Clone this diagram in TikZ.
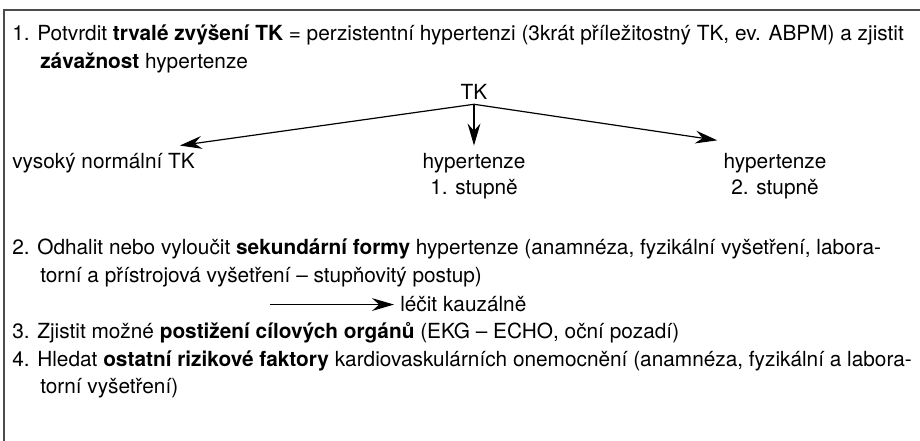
\documentclass[tikz,border=0pt]{standalone}
\usepackage{fontspec}
\setmainfont{TeX Gyre Heros}
\usetikzlibrary{arrows.meta}

\tikzset{
  txt/.style={inner sep=0pt, anchor = base west, font=\fontsize{14.8}{19.6}\selectfont},
  mid/.style={txt, anchor = base},
  arr/.style={line width=0.3mm, -{Stealth[length=5.5mm,width=3.2mm,inset=1.8mm]}},
}

\begin{document}
\begin{tikzpicture}
\useasboundingbox (0,0) rectangle (23,11.025);
\draw[line width=0.35mm, black!70] (23,10.775) -- (0.1,10.775) -- (0.1,0);

% 1. krok
\node[txt] (item1) at (0.3,10.0) {1. Potvrdit \textbf{trvalé zvýšení TK} = perzistentní hypertenzi (3krát příležitostný TK, ev. ABPM) a zjistit};
\node[txt] (item1b) at (1.0,9.3) {\textbf{závažnost} hypertenze};

\node[mid] (tk) at (11.85,8.525) {TK};
\coordinate (split) at ([yshift=-1mm]tk.south);
\node[txt] (normal) at (0.3,6.8) {vysoký normální TK};
\node[mid] (stage1) at (11.85,6.8) {hypertenze};
\node[mid] (stage1b) at (11.85,6.15) {1. stupně};
\node[mid] (stage2) at (19.375,6.8) {hypertenze};
\node[mid] (stage2b) at (19.375,6.15) {2. stupně};
\draw[arr] (split) -- ([xshift=-3.8mm,yshift=2mm]normal.north east);
\draw[arr] (split) -- ([yshift=2mm]stage1.north);
\draw[arr] (split) -- ([xshift=-1.5mm,yshift=3.3mm]stage2.north west);

% 2. krok
\node[txt] (item2) at (0.3,4.65) {2. Odhalit nebo vyloučit \textbf{sekundární formy} hypertenze (anamnéza, fyzikální vyšetření, labora-};
\node[txt] (item2b) at (1.0,3.95) {torní a přístrojová vyšetření – stupňovitý postup)};
\node[txt] (causal) at (10.0,3.225) {léčit kauzálně};
\coordinate (from2) at ([xshift=-3.25cm]causal.west);
\draw[arr, shorten >=1.5mm] (from2) -- (causal.west);

% 3. a 4. krok
\node[txt] (item3) at (0.3,2.55) {3. Zjistit možné \textbf{postižení cílových orgánů} (EKG – ECHO, oční pozadí)};
\node[txt] (item4) at (0.3,1.85) {4. Hledat \textbf{ostatní rizikové faktory} kardiovaskulárních onemocnění (anamnéza, fyzikální a labora-};
\node[txt] (item4b) at (1.0,1.175) {torní vyšetření)};
\end{tikzpicture}
\end{document}
